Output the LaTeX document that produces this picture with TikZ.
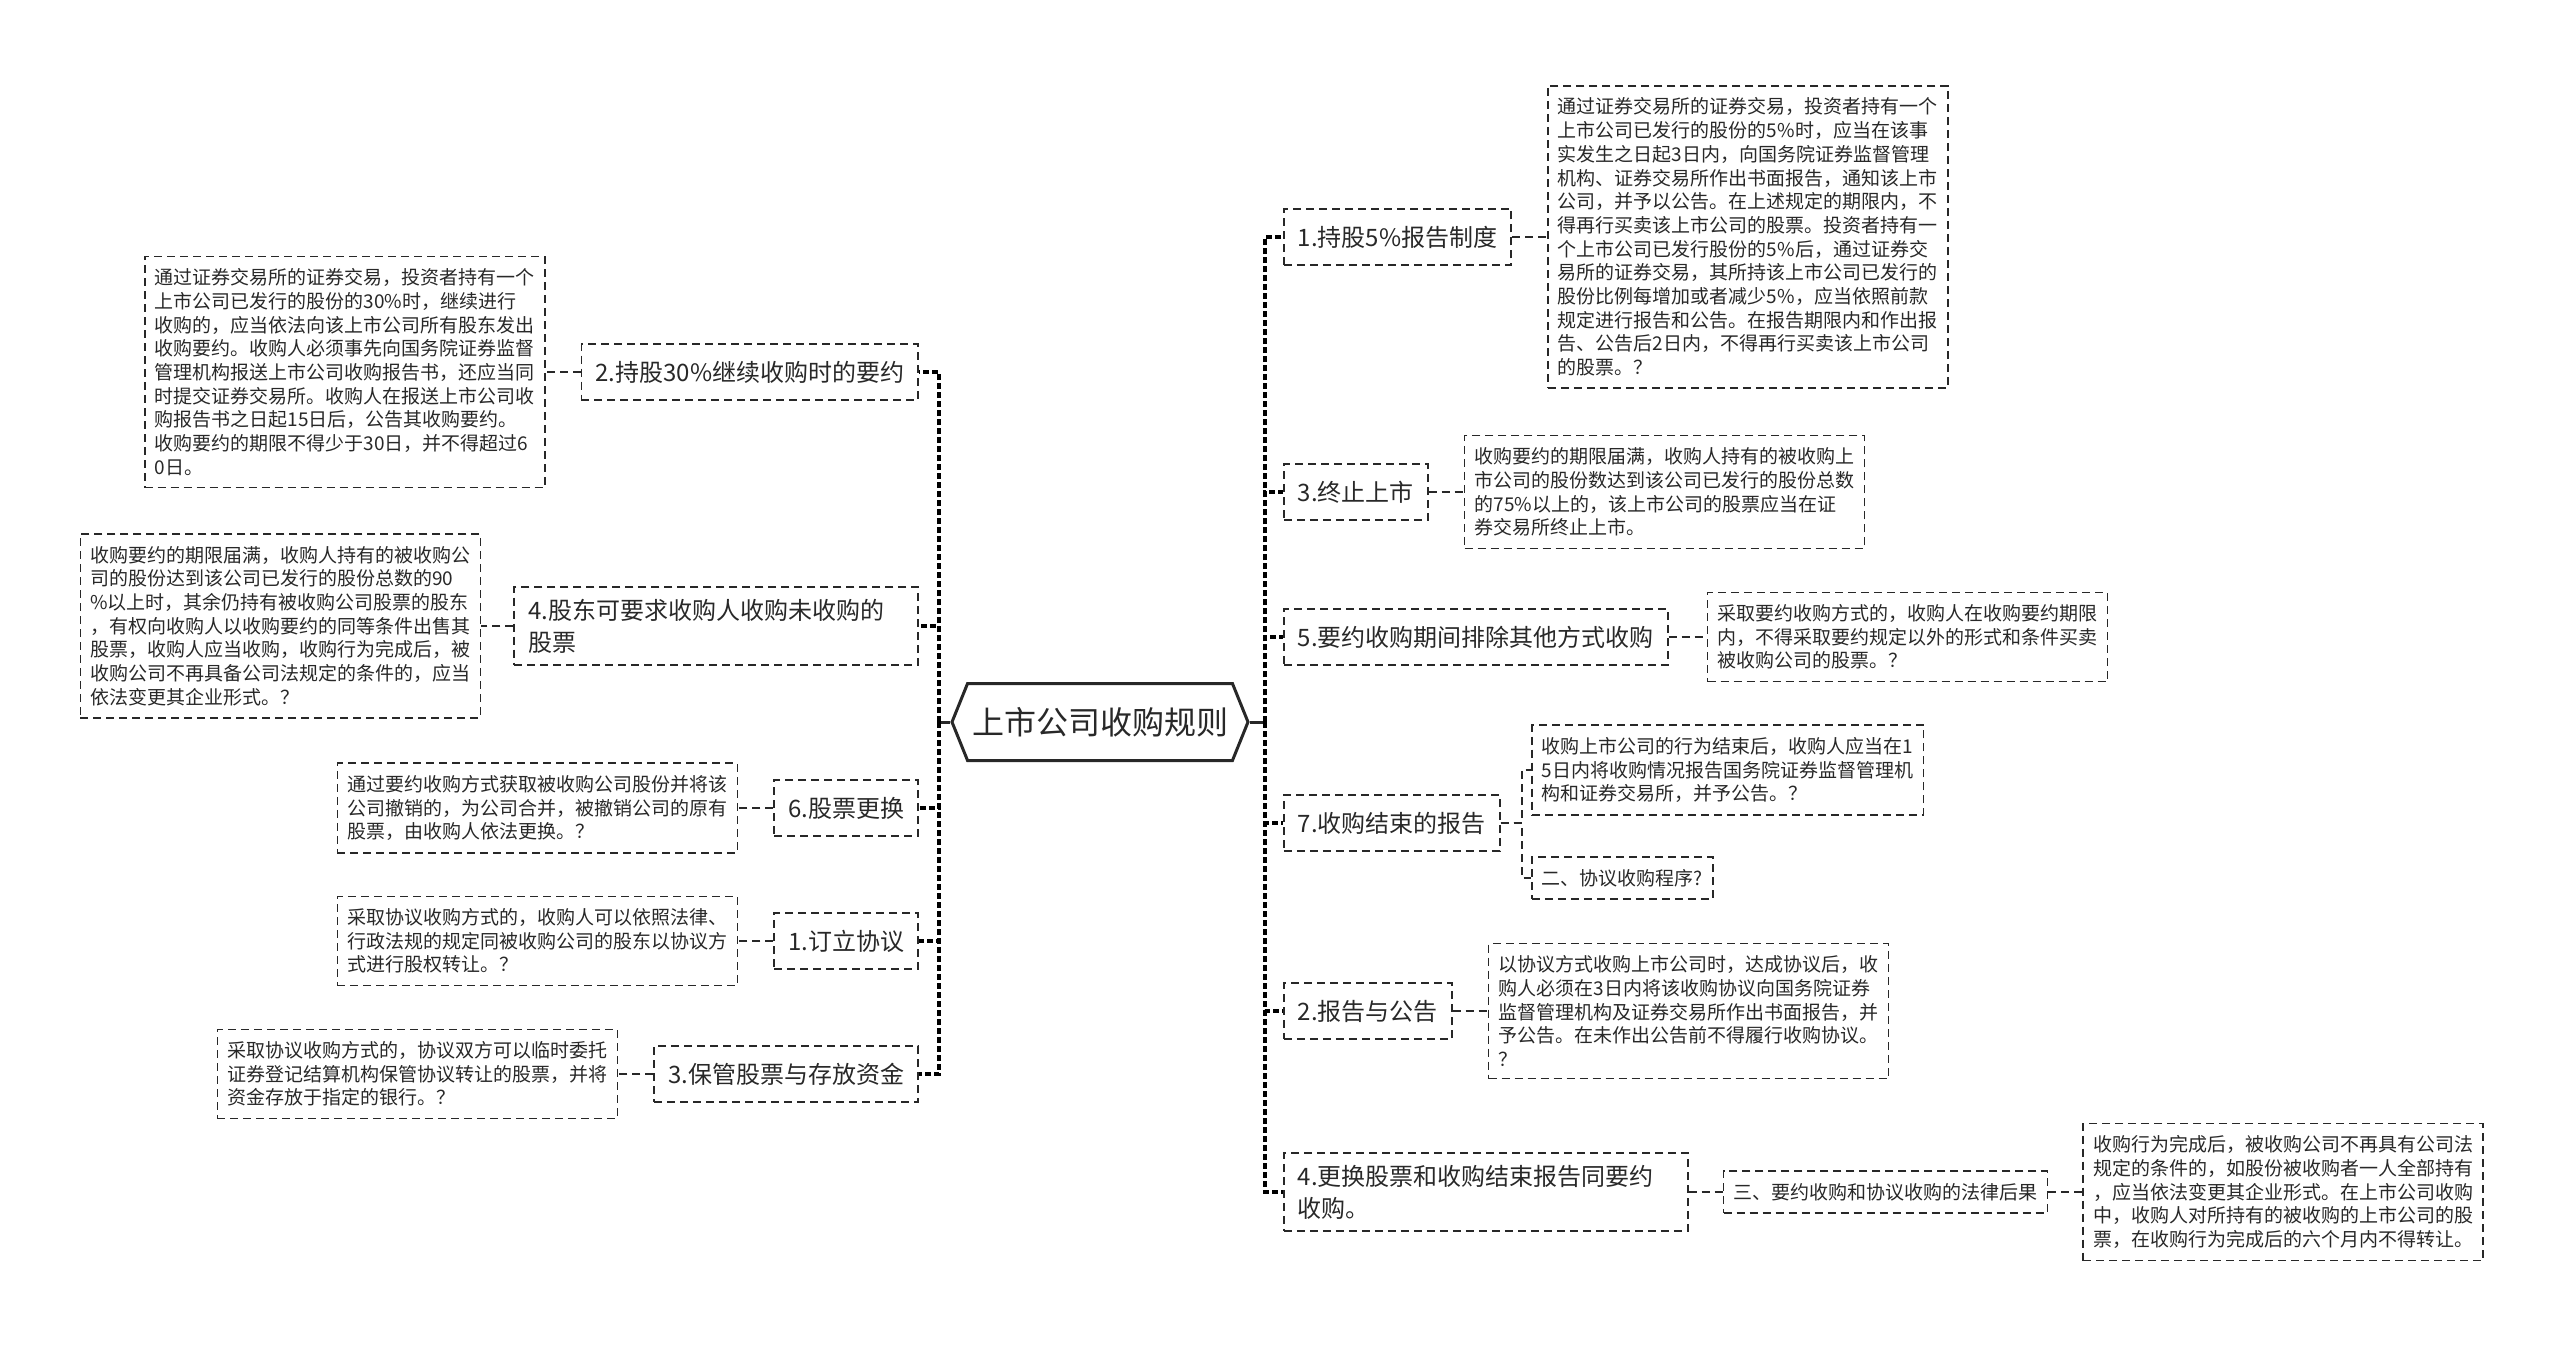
\documentclass[tikz,border=0pt]{standalone}
\usepackage{fontspec}
\setmainfont{Noto Sans CJK SC}
\usepackage{tikz}
\usetikzlibrary{positioning, shapes.symbols}
\definecolor{inkGray}{RGB}{40, 40, 40}

\begin{document}
\begin{tikzpicture}[
    x=1pt, y=-1pt,
    node distance=35pt,
    topic/.style={rectangle, draw=inkGray, line width=1.7pt, dash pattern=on 8pt off 5pt,
                  inner xsep=14pt, inner ysep=12pt, minimum height=56pt, align=left,
                  text=inkGray, font=\fontsize{24}{32}\selectfont},
    longtopic/.style={topic, text width=376pt},
    detail/.style={rectangle, draw=inkGray, line width=1.7pt, dash pattern=on 8pt off 5pt,
                   inner xsep=10pt, inner ysep=12pt, align=left,
                   text=inkGray, font=\fontsize{19}{23.7}\selectfont},
    rootbox/.style={signal, signal to=west and east, signal pointer angle=136,
                    draw=inkGray, line width=3pt, minimum width=296pt, minimum height=77pt,
                    text=inkGray, font=\fontsize{32}{38}\selectfont},
    trunk/.style={draw=black, line width=3.6pt, dash pattern=on 6pt off 3pt},
    link/.style={draw=inkGray, line width=1.7pt, dash pattern=on 8pt off 5pt},
  ]
    \useasboundingbox (0,0) rectangle (2560,1345);

    % root
    \node[rootbox] (root) at (1100,722) {上市公司收购规则};
    \coordinate (jl) at (939,722);
    \coordinate (jr) at (1265,722);

    % left branches
    \node[topic, anchor=east] (l2) at (919,372) {2.持股30\%继续收购时的要约};
    \node[longtopic, anchor=east] (l4) at (919,626) {4.股东可要求收购人收购未收购的\\股票};
    \node[topic, anchor=east] (l6) at (919,808) {6.股票更换};
    \node[topic, anchor=east] (l1) at (919,941) {1.订立协议};
    \node[topic, anchor=east] (l3) at (919,1074) {3.保管股票与存放资金};

    \node[detail, left=of l2] (dl2) {通过证券交易所的证券交易，投资者持有一个\\上市公司已发行的股份的30\%时，继续进行\\收购的，应当依法向该上市公司所有股东发出\\收购要约。收购人必须事先向国务院证券监督\\管理机构报送上市公司收购报告书，还应当同\\时提交证券交易所。收购人在报送上市公司收\\购报告书之日起15日后，公告其收购要约。\\收购要约的期限不得少于30日，并不得超过6\\0日。};
    \node[detail, left=32pt of l4] (dl4) {收购要约的期限届满，收购人持有的被收购公\\司的股份达到该公司已发行的股份总数的90\\\%以上时，其余仍持有被收购公司股票的股东\\，有权向收购人以收购要约的同等条件出售其\\股票，收购人应当收购，收购行为完成后，被\\收购公司不再具备公司法规定的条件的，应当\\依法变更其企业形式。？};
    \node[detail, left=of l6] (dl6) {通过要约收购方式获取被收购公司股份并将该\\公司撤销的，为公司合并，被撤销公司的原有\\股票，由收购人依法更换。？};
    \node[detail, left=of l1] (dl1) {采取协议收购方式的，收购人可以依照法律、\\行政法规的规定同被收购公司的股东以协议方\\式进行股权转让。？};
    \node[detail, left=of l3] (dl3) {采取协议收购方式的，协议双方可以临时委托\\证券登记结算机构保管协议转让的股票，并将\\资金存放于指定的银行。？};

    % right branches
    \node[topic, anchor=west] (r1) at (1283,237) {1.持股5\%报告制度};
    \node[topic, anchor=west] (r3) at (1283,492) {3.终止上市};
    \node[topic, anchor=west] (r5) at (1283,637) {5.要约收购期间排除其他方式收购};
    \node[topic, anchor=west] (r7) at (1283,823) {7.收购结束的报告};
    \node[topic, anchor=west] (r2) at (1283,1011) {2.报告与公告};
    \node[longtopic, anchor=west] (r4) at (1283,1192) {4.更换股票和收购结束报告同要约\\收购。};

    \node[detail, right=of r1] (dr1) {通过证券交易所的证券交易，投资者持有一个\\上市公司已发行的股份的5\%时，应当在该事\\实发生之日起3日内，向国务院证券监督管理\\机构、证券交易所作出书面报告，通知该上市\\公司，并予以公告。在上述规定的期限内，不\\得再行买卖该上市公司的股票。投资者持有一\\个上市公司已发行股份的5\%后，通过证券交\\易所的证券交易，其所持该上市公司已发行的\\股份比例每增加或者减少5\%，应当依照前款\\规定进行报告和公告。在报告期限内和作出报\\告、公告后2日内，不得再行买卖该上市公司\\的股票。？};
    \node[detail, right=of r3] (dr3) {收购要约的期限届满，收购人持有的被收购上\\市公司的股份数达到该公司已发行的股份总数\\的75\%以上的，该上市公司的股票应当在证\\券交易所终止上市。};
    \node[detail, right=38pt of r5] (dr5) {采取要约收购方式的，收购人在收购要约期限\\内，不得采取要约规定以外的形式和条件买卖\\被收购公司的股票。？};
    \node[detail, anchor=west] (dr7a) at (1531,770) {收购上市公司的行为结束后，收购人应当在1\\5日内将收购情况报告国务院证券监督管理机\\构和证券交易所，并予公告。？};
    \node[detail, anchor=west] (dr7b) at (1531,878) {二、协议收购程序?};
    \node[detail, right=of r2] (dr2) {以协议方式收购上市公司时，达成协议后，收\\购人必须在3日内将该收购协议向国务院证券\\监督管理机构及证券交易所作出书面报告，并\\予公告。在未作出公告前不得履行收购协议。\\？};
    \node[detail, right=34pt of r4] (dr4) {三、要约收购和协议收购的法律后果};
    \node[detail, right=34pt of dr4] (dr4b) {收购行为完成后，被收购公司不再具有公司法\\规定的条件的，如股份被收购者一人全部持有\\，应当依法变更其企业形式。在上市公司收购\\中，收购人对所持有的被收购的上市公司的股\\票，在收购行为完成后的六个月内不得转让。};

    % trunk connectors
    \draw[line width=3pt, draw=inkGray] (root.west) -- (jl);
    \draw[line width=3pt, draw=inkGray] (root.east) -- (jr);
    \foreach \n in {l2, l4, l6, l1, l3}
      \draw[trunk] (jl) |- (\n.east);
    \foreach \n in {r1, r3, r5, r7, r2, r4}
      \draw[trunk] (jr) |- (\n.west);

    % detail connectors
    \draw[link] (l2) -- (dl2);
    \draw[link] (l4) -- (dl4);
    \draw[link] (l6) -- (dl6);
    \draw[link] (l1) -- (dl1);
    \draw[link] (l3) -- (dl3);
    \draw[link] (r1) -- (dr1);
    \draw[link] (r3.east) -- (r3.east -| dr3.west);
    \draw[link] (r5) -- (dr5);
    \draw[link] (r7.east) -- ++(21,0) |- (dr7a.west);
    \draw[link] (r7.east) -- ++(21,0) |- (dr7b.west);
    \draw[link] (r2) -- (dr2);
    \draw[link] (r4) -- (dr4);
    \draw[link] (dr4) -- (dr4b);
  \end{tikzpicture}
\end{document}
